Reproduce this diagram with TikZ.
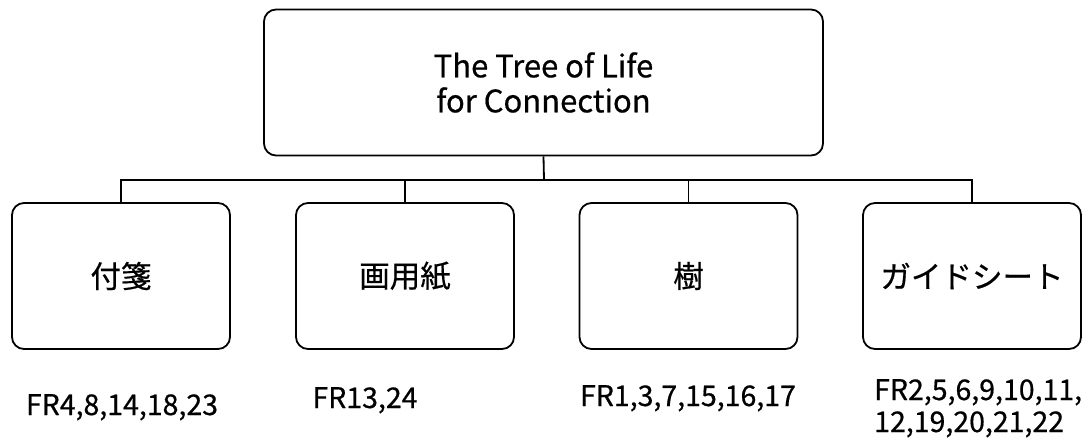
\documentclass[tikz,border=0pt]{standalone}
\usepackage{fontspec}
\setmainfont{Noto Sans CJK JP}[FakeBold=0.6]
\begin{document}
\begin{tikzpicture}[x=1pt,y=-1pt,
  boxstyle/.style={draw=black, line width=1.8pt, rounded corners=12pt, inner sep=0pt, align=center},
  rootbox/.style={boxstyle, minimum width=559pt, minimum height=146pt, font=\fontsize{31}{35}\selectfont},
  childbox/.style={boxstyle, minimum width=218pt, minimum height=146pt, font=\fontsize{30.5}{36}\selectfont},
  frlabel/.style={inner sep=0pt, font=\fontsize{28.5}{32}\selectfont},
  link/.style={draw=black, line width=1.8pt}]
\useasboundingbox (0,0) rectangle (1091,439);
\node[rootbox] (root) at (543.5,82.5) {The Tree of Life\\for Connection};
\node[childbox] (c1) at (121,276) {付箋};
\node[childbox] (c2) at (405,276) {画用紙};
\node[childbox] (c3) at (688.5,276) {樹};
\node[childbox] (c4) at (972,276) {ガイドシート};
\coordinate (j) at (544,180);
\draw[link] (root.south) -- (j);
\draw[link] (c1.north) -- (c1.north |- j) -- (c4.north |- j) -- (c4.north);
\draw[link] (c2.north) -- (c2.north |- j);
\draw[link] (c3.north) -- (c3.north |- j);
\node[frlabel, anchor=base] (l1) at (122,415) {FR4,8,14,18,23};
\node[frlabel, anchor=base] (l2) at (365,408) {FR13,24};
\node[frlabel, anchor=base] (l3) at (688,406) {FR1,3,7,15,16,17};
\node[frlabel, anchor=base west, align=left] (l4) at (874,432) {FR2,5,6,9,10,11,\\12,19,20,21,22};
\end{tikzpicture}
\end{document}
